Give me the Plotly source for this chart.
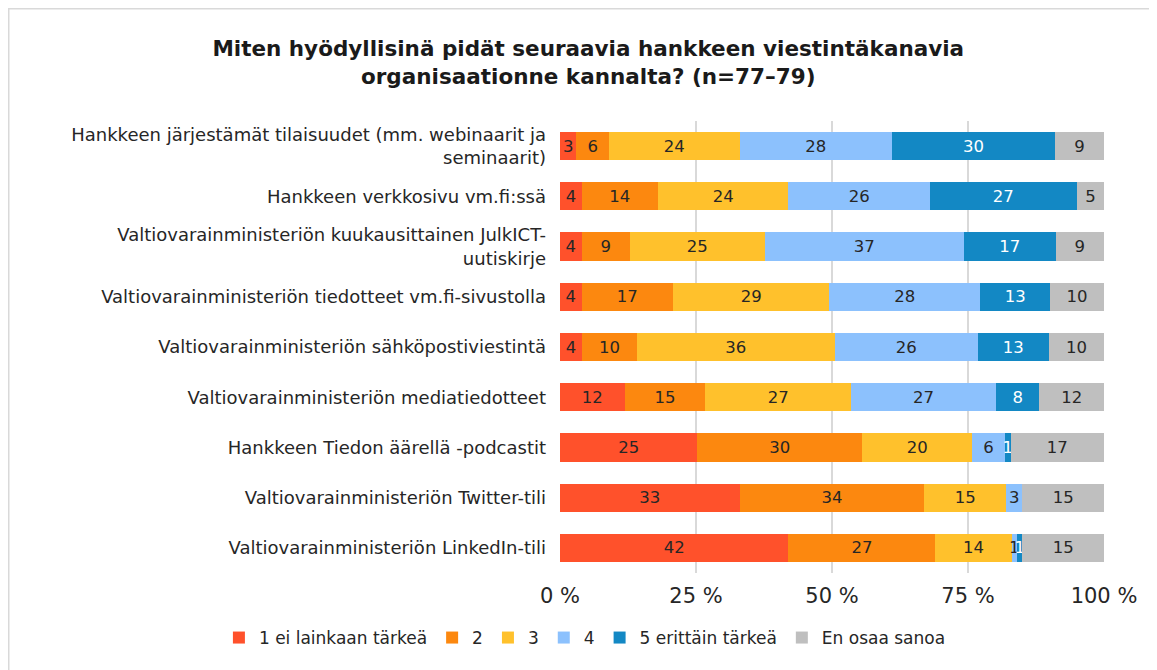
import plotly.graph_objects as go

categories = [
    "Hankkeen järjestämät tilaisuudet (mm. webinaarit ja<br>seminaarit)",
    "Hankkeen verkkosivu vm.fi:ssä",
    "Valtiovarainministeriön kuukausittainen JulkICT-<br>uutiskirje",
    "Valtiovarainministeriön tiedotteet vm.fi-sivustolla",
    "Valtiovarainministeriön sähköpostiviestintä",
    "Valtiovarainministeriön mediatiedotteet",
    "Hankkeen Tiedon äärellä -podcastit",
    "Valtiovarainministeriön Twitter-tili",
    "Valtiovarainministeriön LinkedIn-tili",
]

series_names = ["1 ei lainkaan tärkeä", "2", "3", "4", "5 erittäin tärkeä", "En osaa sanoa"]

v1 = [3, 4, 4, 4, 4, 12, 25, 33, 42]
v2 = [6, 14, 9, 17, 10, 15, 30, 34, 27]
v3 = [24, 24, 25, 29, 36, 27, 20, 15, 14]
v4 = [28, 26, 37, 28, 26, 27, 6, 3, 1]
v5 = [30, 27, 17, 13, 13, 8, 1, 0, 1]
v6 = [9, 5, 9, 10, 10, 12, 17, 15, 15]

tick_vals = [0, 25, 50, 75, 100]
tick_text = ["0 %", "25 %", "50 %", "75 %", "100 %"]

series_values = [v1, v2, v3, v4, v5, v6]
colors = ["#FF512B", "#FC880F", "#FFC12C", "#8CC1FD", "#1388C4", "#BFBFBF"]
text_colors = ["#262626", "#262626", "#262626", "#262626", "#FFFFFF", "#262626"]

FONT = "DejaVu Sans"

fig = go.Figure()
for name, vals, col, tcol in zip(series_names, series_values, colors, text_colors):
    fig.add_trace(go.Bar(
        name=name,
        y=categories,
        x=vals,
        orientation="h",
        marker=dict(color=col, line=dict(width=0)),
        text=[str(v) if v > 0 else "" for v in vals],
        texttemplate="%{text}",
        textposition="inside",
        insidetextanchor="middle",
        textangle=0,
        constraintext="none",
        textfont=dict(color=tcol, size=16.5, family=FONT),
        hoverinfo="skip",
    ))

fig.update_layout(
    barmode="stack",
    barnorm="percent",
    bargap=0.44,
    width=1149,
    height=662,
    paper_bgcolor="white",
    plot_bgcolor="white",
    margin=dict(l=552, r=53, t=113, b=97, autoexpand=False),
    title=dict(
        text="Miten hyödyllisinä pidät seuraavia hankkeen viestintäkanavia<br>organisaationne kannalta? (n=77–79)",
        x=0.505, xanchor="center", xref="container",
        y=0.927, yanchor="middle", yref="container",
        font=dict(family=FONT, size=21.5, color="#1a1a1a", weight=600),
    ),
    font=dict(family=FONT, color="#262626"),
    uniformtext=dict(minsize=16, mode="show"),
    legend=dict(
        orientation="h", x=-0.627, xanchor="left", xref="paper",
        y=-0.1438, yanchor="middle", yref="paper",
        font=dict(size=17, family=FONT, color="#262626"),
        traceorder="normal", itemwidth=30, tracegroupgap=0,
    ),
    xaxis=dict(
        range=[0, 100], tickmode="array", tickvals=tick_vals, ticktext=tick_text,
        showgrid=True, gridcolor="#D9D9D9", gridwidth=1.5,
        zeroline=False, showline=False,
        tickfont=dict(size=21, family=FONT, color="#262626"),
        ticklabelstandoff=8,
        fixedrange=True,
    ),
    yaxis=dict(
        autorange="reversed", showgrid=False, zeroline=False, showline=False,
        tickfont=dict(size=18, family=FONT, color="#262626"),
        ticklabelstandoff=13,
    ),
    shapes=[dict(
        type="rect", xref="paper", yref="paper",
        x0=-1.0138, x1=1.3, y0=-0.4, y1=1.249,
        line=dict(color="#D9D9D9", width=2), fillcolor="rgba(0,0,0,0)", layer="below",
    )],
)

fig.write_html("out.html")
